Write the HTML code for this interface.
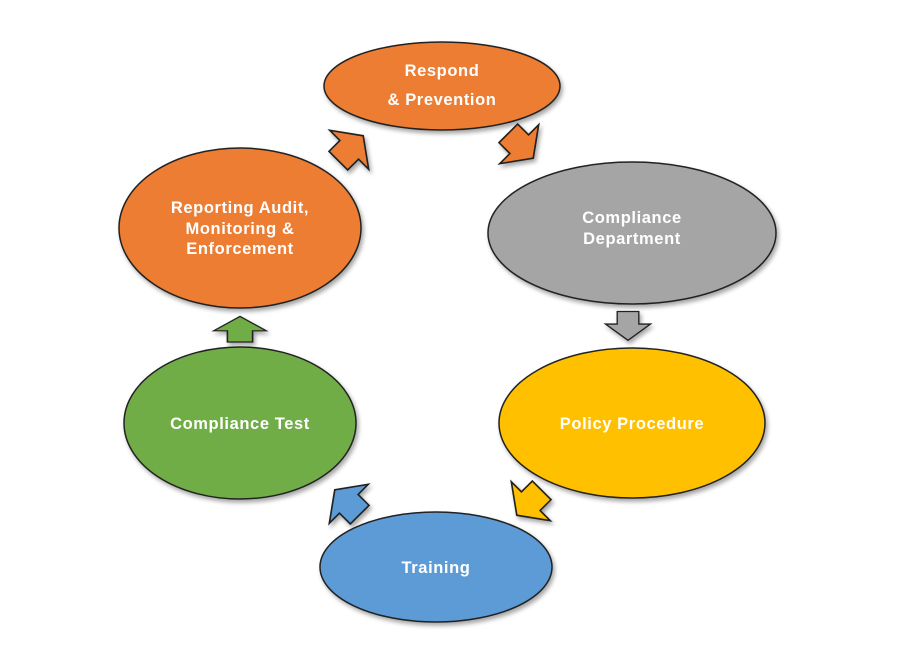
<!DOCTYPE html>
<html><head><style>body{margin:0;background:#fff}svg{display:block}</style></head><body>
<svg width="900" height="662" viewBox="0 0 900 662" xmlns="http://www.w3.org/2000/svg">
<defs>
<filter id="sh" x="-10%" y="-10%" width="125%" height="125%"><feDropShadow dx="2" dy="3" stdDeviation="2" flood-color="#000" flood-opacity="0.35"/></filter>
<polygon id="ar" points="0,-17 25,1 12,1 12,15 -12,15 -12,1 -25,1"/>
</defs>
<g stroke="#222" stroke-width="1.5" filter="url(#sh)">
<ellipse cx="442" cy="86" rx="118" ry="44" fill="#ED7D31"/>
<ellipse cx="632" cy="233" rx="144" ry="71" fill="#A5A5A5"/>
<ellipse cx="632" cy="423" rx="133" ry="75" fill="#FFC000"/>
<ellipse cx="436" cy="567" rx="116" ry="55" fill="#5B9BD5"/>
<ellipse cx="240" cy="423" rx="116" ry="76" fill="#70AD47"/>
<ellipse cx="240" cy="228" rx="121" ry="80" fill="#ED7D31"/>
<use href="#ar" fill="#ED7D31" transform="translate(350,149) rotate(45) scale(1.1)"/>
<use href="#ar" fill="#ED7D31" transform="translate(520,145) rotate(135) scale(1.1)"/>
<use href="#ar" fill="#A5A5A5" transform="translate(628,325) rotate(180) scale(0.9)"/>
<use href="#ar" fill="#FFC000" transform="translate(530,502) rotate(225) scale(1.1)"/>
<use href="#ar" fill="#5B9BD5" transform="translate(348,503) rotate(-45) scale(1.1)"/>
<use href="#ar" fill="#70AD47" transform="translate(240,330) scale(1.05,0.8)"/>
</g>
<g font-family="Liberation Sans, sans-serif" font-weight="bold" font-size="16.5" letter-spacing="0.6" fill="#fff" text-anchor="middle">
<text x="442" y="76">Respond</text>
<text x="442" y="105">&amp; Prevention</text>
<text x="632" y="223">Compliance</text>
<text x="632" y="244">Department</text>
<text x="632" y="429">Policy Procedure</text>
<text x="436" y="573">Training</text>
<text x="240" y="429">Compliance Test</text>
<text x="240" y="213">Reporting Audit,</text>
<text x="240" y="234">Monitoring &amp;</text>
<text x="240" y="254">Enforcement</text>
</g>
</svg>
</body></html>
